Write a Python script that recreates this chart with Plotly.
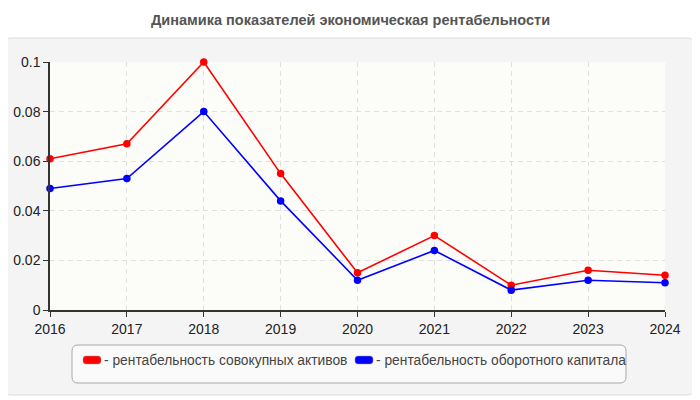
import plotly.graph_objects as go

years = [2016, 2017, 2018, 2019, 2020, 2021, 2022, 2023, 2024]
assets = [0.061, 0.067, 0.100, 0.055, 0.015, 0.030, 0.010, 0.016, 0.014]
working_capital = [0.049, 0.053, 0.080, 0.044, 0.012, 0.024, 0.008, 0.012, 0.011]
names = ["рентабельность совокупных активов", "рентабельность оборотного капитала"]
colors = ["#ff0000", "#0000ff"]
title = "Динамика показателей экономическая рентабельности"

# page has an 8px body margin, so the figure is 8px smaller than the window
OFF = 8
W, H = 700 - OFF, 400 - OFF
L, R, T, B = 50 - OFF, 35, 62 - OFF, 90
pw, ph = W - L - R, H - T - B


def px(x):  # window pixel -> paper x
    return (x - OFF - L) / pw


def py(y):  # window pixel -> paper y
    return (H - B - (y - OFF)) / ph


def rrect(x0, y0, x1, y1, r):
    # rounded rectangle in window pixel coords, converted to paper
    X0, X1 = px(x0), px(x1)
    Y0, Y1 = py(y1), py(y0)
    rx, ry = r / pw, r / ph
    return (f"M{X0+rx},{Y0} L{X1-rx},{Y0} Q{X1},{Y0} {X1},{Y0+ry} "
            f"L{X1},{Y1-ry} Q{X1},{Y1} {X1-rx},{Y1} L{X0+rx},{Y1} "
            f"Q{X0},{Y1} {X0},{Y1-ry} L{X0},{Y0+ry} Q{X0},{Y0} {X0+rx},{Y0} Z")


fig = go.Figure()
for ys, c, n in zip([assets, working_capital], colors, names):
    fig.add_trace(go.Scatter(x=years, y=ys, name=n, mode="lines+markers",
                             line=dict(color=c, width=1.6),
                             marker=dict(color=c, size=7.5), showlegend=False,
                             cliponaxis=False))

shapes = [
    dict(type="path", xref="paper", yref="paper", layer="below",
         path=rrect(3, 38, 695, 395, 8), fillcolor="#f4f4f4",
         line=dict(color="#dcdcdc", width=1)),
    dict(type="rect", xref="paper", yref="paper", layer="below",
         x0=0, x1=1, y0=0, y1=1, fillcolor="#fcfcf8", line=dict(width=0)),
    dict(type="path", xref="paper", yref="paper", layer="below",
         path=rrect(72, 345, 626, 383, 6), fillcolor="#fafafa",
         line=dict(color="#a8a8a8", width=1)),
]
annotations = [
    dict(text="<b>" + title + "</b>", xref="paper", yref="paper",
         x=px(350), y=py(20), xanchor="center", yanchor="middle",
         showarrow=False, font=dict(size=14.5, color="#555555")),
]
legend_x = [83, 355]
for lx, c, n in zip(legend_x, colors, names):
    shapes.append(dict(type="path", xref="paper", yref="paper",
                       path=rrect(lx, 356, lx + 18, 364, 3), fillcolor=c,
                       line=dict(color="#999999", width=0.5)))
    annotations.append(dict(text="- " + n, xref="paper", yref="paper",
                            x=px(lx + 19), y=py(360), xanchor="left",
                            yanchor="middle", showarrow=False,
                            font=dict(size=13.8, color="#444444")))

fig.update_layout(
    width=W, height=H,
    margin=dict(l=L, r=R, t=T, b=B),
    paper_bgcolor="white",
    plot_bgcolor="rgba(0,0,0,0)",
    font=dict(family="Liberation Sans, Arial", size=14, color="#222222"),
    shapes=shapes,
    annotations=annotations,
    xaxis=dict(range=[2016, 2024], tickmode="array", tickvals=years,
               automargin=False,
               showline=True, linecolor="#333333", linewidth=1.5,
               ticks="outside", ticklen=5, tickcolor="#333333",
               showgrid=True, gridcolor="#e0e0e0", griddash="5px,4px",
               zeroline=False),
    yaxis=dict(range=[0, 0.1], tickvals=[0, 0.02, 0.04, 0.06, 0.08, 0.1],
               ticktext=["0", "0.02", "0.04", "0.06", "0.08", "0.1"],
               automargin=False,
               showline=True, linecolor="#333333", linewidth=1.5,
               ticks="outside", ticklen=5, tickcolor="#333333",
               showgrid=True, gridcolor="#e0e0e0", griddash="5px,4px",
               zeroline=False),
)

fig.write_html("out.html")
